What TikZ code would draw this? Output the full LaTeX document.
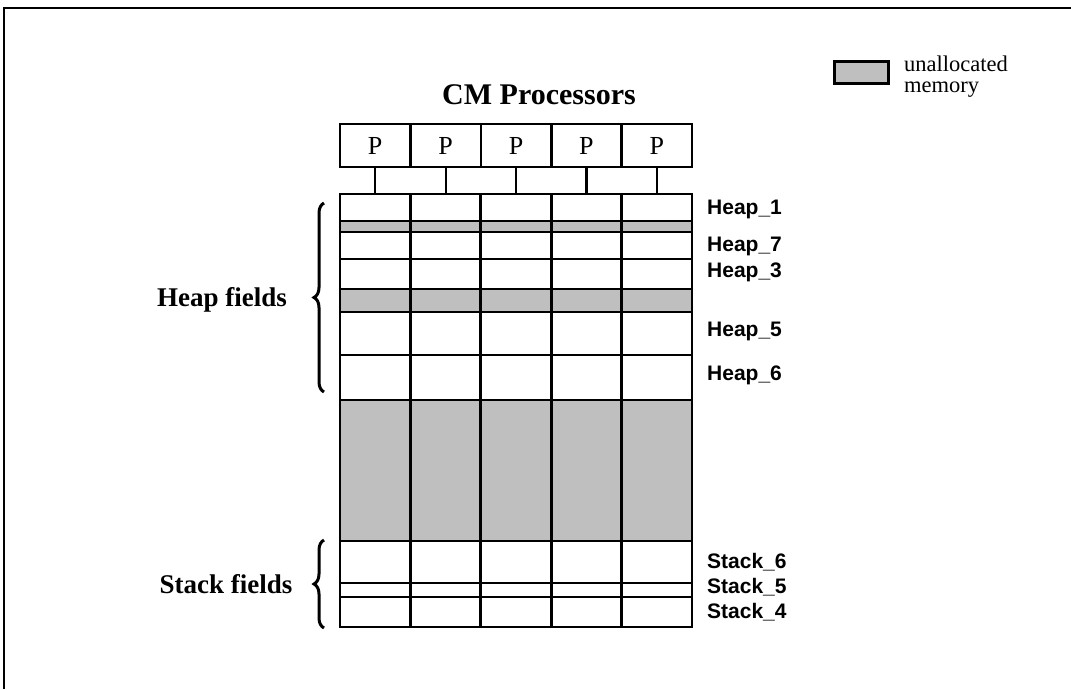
\documentclass[tikz,border=0pt]{standalone}
\usepackage{fontspec}
\setmainfont{Liberation Serif}
\newfontfamily\labfont{Liberation Sans}
\usetikzlibrary{decorations.pathreplacing}
\tikzset{
  cellrow/.style={minimum width=352pt, inner sep=0pt, outer sep=0pt, anchor=north west},
  freerow/.style={cellrow, fill=white},
  usedrow/.style={cellrow, fill=black!25},
  pbox/.style={draw, line width=2.6pt, minimum width=70.4pt, minimum height=43pt, inner sep=0pt, outer sep=0pt, anchor=north west, font=\fontsize{26}{28}\selectfont},
  wire/.style={line width=2.2pt},
  fieldlab/.style={anchor=west, inner sep=0pt, font=\labfont\bfseries\fontsize{21}{23}\selectfont},
  bigtitle/.style={inner sep=0pt, font=\bfseries\fontsize{27}{30}\selectfont},
  bracestyle/.style={decorate, decoration={brace, amplitude=10pt}, line width=3pt},
  divider/.style={line width=2.8pt}
}
\begin{document}
\begin{tikzpicture}[x=1pt, y=-1pt]
\useasboundingbox (0,0) rectangle (1071,689);
% frame
\draw[line width=2.6pt] (4,689) -- (4,8) -- (1071,8);

% title
\node[bigtitle, font=\bfseries\fontsize{30}{32}\selectfont] (title) at (539,95) {CM Processors};

% legend
\node[draw, line width=2.6pt, fill=black!25, minimum width=54pt, minimum height=22pt, inner sep=0pt, anchor=north west] (legbox) at (833,60) {};
\node[anchor=north west, inner sep=0pt, align=left, font=\fontsize{22.5}{21}\selectfont] (legtext) at (904,56) {unallocated\\memory};

% processors
\foreach \i in {1,...,5} {
  \node[pbox] (p\i) at ({340+(\i-1)*70.4},124) {P};
}

% memory rows (fills)
\node[freerow, minimum height=27pt] (r1) at (340,194) {};
\node[usedrow, minimum height=11pt] (s1) at (340,221) {};
\node[freerow, minimum height=27pt] (r2) at (340,232) {};
\node[freerow, minimum height=30pt] (r3) at (340,259) {};
\node[usedrow, minimum height=23pt] (s2) at (340,289) {};
\node[freerow, minimum height=43pt] (r4) at (340,312) {};
\node[freerow, minimum height=45pt] (r5) at (340,355) {};
\node[usedrow, minimum height=141pt] (s3) at (340,400) {};
\node[freerow, minimum height=42pt] (r6) at (340,541) {};
\node[freerow, minimum height=14pt] (r7) at (340,583) {};
\node[freerow, minimum height=30pt] (r8) at (340,597) {};

% row borders
\foreach \n in {r1,s1,r2,r3,s2,r4,r5,s3,r6,r7,r8} {
  \draw[divider] (\n.north west) rectangle (\n.south east);
}

% column dividers
\foreach \i in {1,...,4} {
  \draw[divider] (p\i.south east |- r1.north) -- (p\i.south east |- r8.south);
}

% processor-to-memory connectors
\foreach \i in {1,...,5} {
  \draw[wire] (p\i.south) -- (p\i.south |- r1.north);
}

% field labels
\node[fieldlab] (h1) at (707,209) {Heap\_1};
\node[fieldlab] (h7) at (707,246) {Heap\_7};
\node[fieldlab] (h3) at (707,272) {Heap\_3};
\node[fieldlab] (h5) at (707,331) {Heap\_5};
\node[fieldlab] (h6) at (707,375) {Heap\_6};
\node[fieldlab] (st6) at (707,562) {Stack\_6};
\node[fieldlab] (st5) at (707,587) {Stack\_5};
\node[fieldlab] (st4) at (707,612) {Stack\_4};

% braces
\coordinate (hb1) at (324,392);
\coordinate (hb2) at (324,203);
\coordinate (sb1) at (324,628);
\coordinate (sb2) at (324,540);
\draw[bracestyle] (hb1) -- (hb2);
\draw[bracestyle] (sb1) -- (sb2);

\node[bigtitle] (heapf) at (222,300) {Heap fields};
\node[bigtitle] (stackf) at (226,584) {Stack fields};
\end{tikzpicture}
\end{document}
